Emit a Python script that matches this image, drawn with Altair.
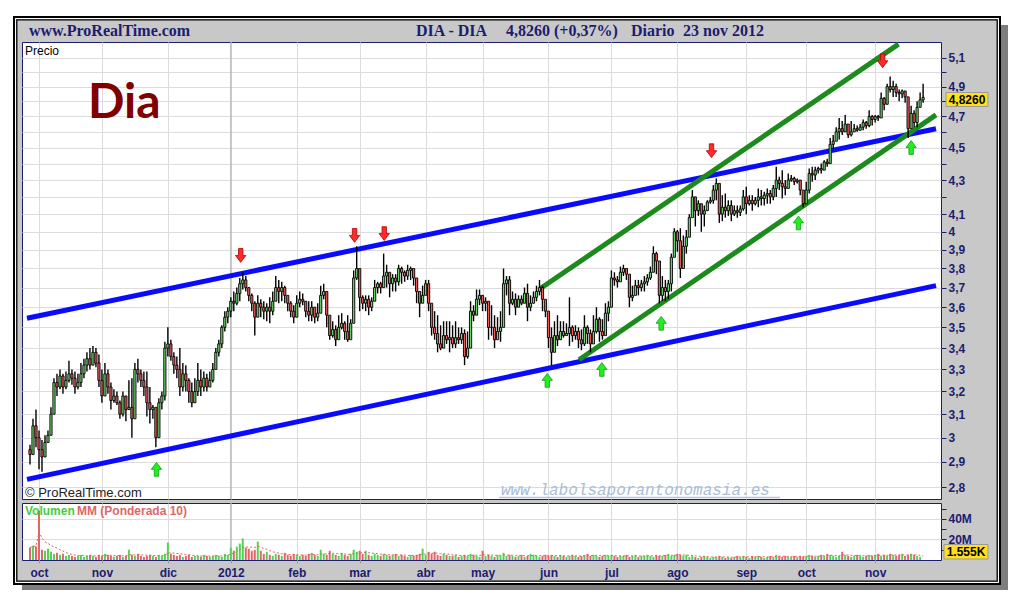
import altair as alt
import numpy as np
import pandas as pd

NAVY = "#1c1c72"
GRID = "#dcdcdc"

# ---------------- axis ticks / labels ----------------
month_idx = [3, 24, 46, 67, 89, 110, 132, 151, 173, 194, 216, 239, 259, 282]
month_lbl = ["oct", "nov", "dic", "2012", "feb", "mar", "abr", "may", "jun", "jul", "ago", "sep", "oct", "nov"]
year_idx = [67]
price_grid = [2.8, 2.9, 3.0, 3.1, 3.2, 3.3, 3.4, 3.5, 3.6, 3.7, 3.8, 3.9, 4.0, 4.1, 4.2, 4.3, 4.4, 4.5, 4.6, 4.7, 4.8, 4.9, 5.0, 5.1]
price_lab = [2.8, 2.9, 3.0, 3.1, 3.2, 3.3, 3.4, 3.5, 3.6, 3.7, 3.8, 3.9, 4.0, 4.1, 4.3, 4.5, 4.7, 4.9, 5.1]
vol_ticks = [10000000, 20000000, 30000000, 40000000, 50000000]

# ---------------- daily prices (trading-day index 0 = 28 sep 2011) ----------------
close = [
    2.93, 3.05, 3.00, 2.95, 2.92, 2.98, 3.01, 3.10, 3.24, 3.22,
    3.27, 3.22, 3.25, 3.28, 3.26, 3.22, 3.24, 3.28, 3.32, 3.35,
    3.32, 3.38, 3.33, 3.25, 3.18, 3.28, 3.22, 3.16, 3.18, 3.15,
    3.10, 3.18, 3.12, 3.13, 3.08, 3.30, 3.28, 3.25, 3.22, 3.15,
    3.12, 3.13, 3.00, 3.15, 3.18, 3.40, 3.42, 3.36, 3.32, 3.30,
    3.22, 3.28, 3.25, 3.20, 3.15, 3.20, 3.25, 3.22, 3.26, 3.22,
    3.25, 3.30, 3.38, 3.42, 3.50, 3.55, 3.58, 3.63, 3.62, 3.67,
    3.72, 3.74, 3.70, 3.66, 3.62, 3.55, 3.62, 3.60, 3.58, 3.60,
    3.58, 3.63, 3.70, 3.68, 3.70, 3.66, 3.62, 3.58, 3.55, 3.62,
    3.64, 3.63, 3.58, 3.56, 3.60, 3.55, 3.57, 3.66, 3.68, 3.56,
    3.46, 3.49, 3.44, 3.50, 3.52, 3.48, 3.44, 3.52, 3.75, 3.80,
    3.65, 3.62, 3.64, 3.60, 3.63, 3.70, 3.72, 3.70, 3.76, 3.78,
    3.72, 3.75, 3.73, 3.80, 3.78, 3.76, 3.79, 3.80, 3.75, 3.68,
    3.62, 3.66, 3.72, 3.62, 3.50, 3.47, 3.42, 3.40, 3.46, 3.44,
    3.45, 3.42, 3.45, 3.44, 3.47, 3.36, 3.40, 3.58, 3.56, 3.64,
    3.66, 3.62, 3.63, 3.50, 3.50, 3.44, 3.48, 3.50, 3.72, 3.74,
    3.62, 3.64, 3.60, 3.64, 3.62, 3.67, 3.60, 3.62, 3.65, 3.68,
    3.70, 3.64, 3.58, 3.45, 3.38, 3.46, 3.44, 3.48, 3.46, 3.47,
    3.50, 3.46, 3.48, 3.44, 3.42, 3.50, 3.47, 3.42, 3.48, 3.54,
    3.48, 3.46, 3.57, 3.60, 3.75, 3.74, 3.73, 3.78, 3.80, 3.77,
    3.65, 3.66, 3.71, 3.70, 3.72, 3.73, 3.75, 3.78, 3.88, 3.84,
    3.66, 3.70, 3.68, 3.72, 3.86, 4.00, 3.95, 3.80, 3.92, 3.97,
    4.08, 4.20, 4.12, 4.16, 4.10, 4.12, 4.17, 4.18, 4.24, 4.28,
    4.10, 4.14, 4.12, 4.15, 4.10, 4.12, 4.11, 4.13, 4.20, 4.16,
    4.18, 4.16, 4.18, 4.20, 4.19, 4.21, 4.22, 4.20, 4.25, 4.30,
    4.28, 4.26, 4.25, 4.30, 4.31, 4.29, 4.30, 4.24, 4.16, 4.24,
    4.34, 4.33, 4.36, 4.37, 4.36, 4.41, 4.40, 4.52, 4.54, 4.60,
    4.62, 4.60, 4.65, 4.58, 4.60, 4.62, 4.61, 4.63, 4.66, 4.64,
    4.70, 4.68, 4.70, 4.69, 4.82, 4.78, 4.90, 4.88, 4.90, 4.86,
    4.85, 4.87, 4.83, 4.62, 4.72, 4.66, 4.76, 4.81, 4.826,
]
high = [
    2.97, 3.08, 3.12, 3.03, 2.99, 3.01, 3.03, 3.13, 3.26, 3.28,
    3.30, 3.28, 3.29, 3.34, 3.30, 3.29, 3.28, 3.33, 3.35, 3.38,
    3.40, 3.41, 3.40, 3.37, 3.30, 3.33, 3.30, 3.24, 3.21, 3.20,
    3.16, 3.20, 3.18, 3.25, 3.26, 3.33, 3.35, 3.30, 3.29, 3.29,
    3.22, 3.14, 3.12, 3.17, 3.20, 3.43, 3.50, 3.44, 3.38, 3.36,
    3.40, 3.33, 3.32, 3.26, 3.24, 3.26, 3.33, 3.30, 3.29, 3.28,
    3.29, 3.33, 3.40, 3.44, 3.51, 3.58, 3.60, 3.65, 3.68, 3.70,
    3.75, 3.78, 3.76, 3.70, 3.67, 3.63, 3.66, 3.64, 3.63, 3.62,
    3.65, 3.68, 3.76, 3.74, 3.73, 3.71, 3.64, 3.63, 3.61, 3.66,
    3.68, 3.67, 3.63, 3.63, 3.63, 3.59, 3.62, 3.71, 3.72, 3.67,
    3.52, 3.53, 3.51, 3.56, 3.57, 3.53, 3.56, 3.54, 3.79, 3.92,
    3.70, 3.66, 3.66, 3.66, 3.65, 3.74, 3.73, 3.73, 3.88, 3.82,
    3.77, 3.77, 3.77, 3.82, 3.81, 3.79, 3.82, 3.81, 3.79, 3.75,
    3.68, 3.71, 3.74, 3.74, 3.61, 3.58, 3.56, 3.51, 3.53, 3.53,
    3.53, 3.51, 3.53, 3.50, 3.50, 3.49, 3.48, 3.63, 3.61, 3.69,
    3.69, 3.66, 3.65, 3.63, 3.61, 3.56, 3.55, 3.58, 3.80, 3.76,
    3.76, 3.68, 3.67, 3.66, 3.66, 3.70, 3.72, 3.66, 3.68, 3.71,
    3.74, 3.71, 3.63, 3.58, 3.50, 3.53, 3.56, 3.53, 3.53, 3.52,
    3.65, 3.51, 3.51, 3.50, 3.49, 3.56, 3.51, 3.49, 3.56, 3.60,
    3.55, 3.54, 3.62, 3.63, 3.79, 3.78, 3.76, 3.81, 3.82, 3.80,
    3.76, 3.71, 3.74, 3.74, 3.74, 3.76, 3.77, 3.81, 3.92, 3.89,
    3.77, 3.76, 3.74, 3.74, 3.88, 4.02, 4.01, 4.02, 3.98, 4.01,
    4.10, 4.24, 4.20, 4.18, 4.16, 4.15, 4.18, 4.20, 4.27, 4.31,
    4.25, 4.21, 4.22, 4.18, 4.18, 4.15, 4.15, 4.15, 4.24, 4.26,
    4.21, 4.21, 4.20, 4.25, 4.24, 4.23, 4.25, 4.24, 4.27, 4.38,
    4.32, 4.36, 4.30, 4.34, 4.33, 4.32, 4.31, 4.29, 4.23, 4.29,
    4.37, 4.38, 4.38, 4.38, 4.40, 4.42, 4.43, 4.56, 4.58, 4.63,
    4.69, 4.67, 4.71, 4.64, 4.67, 4.65, 4.64, 4.65, 4.68, 4.67,
    4.74, 4.71, 4.71, 4.71, 4.86, 4.83, 4.92, 4.97, 4.94, 4.92,
    4.88, 4.88, 4.87, 4.80, 4.77, 4.74, 4.80, 4.86, 4.92,
]
low = [
    2.89, 2.96, 2.96, 2.87, 2.86, 2.92, 2.98, 3.02, 3.12, 3.18,
    3.21, 3.19, 3.21, 3.24, 3.23, 3.19, 3.21, 3.22, 3.26, 3.29,
    3.30, 3.33, 3.31, 3.22, 3.15, 3.24, 3.19, 3.12, 3.15, 3.14,
    3.08, 3.09, 3.07, 3.12, 3.00, 3.18, 3.24, 3.22, 3.18, 3.09,
    3.06, 3.08, 2.96, 3.01, 3.12, 3.16, 3.36, 3.34, 3.28, 3.26,
    3.18, 3.20, 3.20, 3.15, 3.13, 3.15, 3.18, 3.18, 3.20, 3.20,
    3.22, 3.24, 3.32, 3.36, 3.40, 3.48, 3.52, 3.55, 3.58, 3.61,
    3.63, 3.69, 3.68, 3.63, 3.58, 3.46, 3.56, 3.55, 3.54, 3.53,
    3.52, 3.56, 3.64, 3.62, 3.63, 3.62, 3.58, 3.55, 3.52, 3.56,
    3.60, 3.61, 3.55, 3.53, 3.53, 3.52, 3.53, 3.63, 3.64, 3.50,
    3.44, 3.45, 3.41, 3.47, 3.49, 3.44, 3.43, 3.50, 3.62, 3.74,
    3.58, 3.59, 3.58, 3.56, 3.58, 3.65, 3.67, 3.67, 3.72, 3.70,
    3.65, 3.68, 3.68, 3.71, 3.72, 3.73, 3.74, 3.74, 3.71, 3.62,
    3.55, 3.63, 3.67, 3.58, 3.46, 3.44, 3.38, 3.39, 3.45, 3.42,
    3.38, 3.40, 3.40, 3.42, 3.42, 3.32, 3.35, 3.49, 3.53, 3.60,
    3.61, 3.58, 3.58, 3.44, 3.46, 3.40, 3.46, 3.43, 3.62, 3.66,
    3.56, 3.61, 3.56, 3.60, 3.61, 3.63, 3.53, 3.58, 3.62, 3.63,
    3.66, 3.58, 3.55, 3.40, 3.32, 3.42, 3.41, 3.44, 3.45, 3.46,
    3.41, 3.43, 3.44, 3.40, 3.39, 3.41, 3.42, 3.38, 3.44, 3.47,
    3.43, 3.44, 3.51, 3.53, 3.60, 3.71, 3.70, 3.74, 3.76, 3.74,
    3.60, 3.63, 3.67, 3.66, 3.68, 3.68, 3.71, 3.74, 3.79, 3.77,
    3.62, 3.63, 3.63, 3.64, 3.68, 3.89, 3.89, 3.75, 3.81, 3.88,
    3.99, 4.12, 4.03, 4.09, 4.00, 4.03, 4.12, 4.16, 4.16, 4.18,
    4.05, 4.06, 4.08, 4.09, 4.06, 4.09, 4.08, 4.09, 4.12, 4.10,
    4.15, 4.12, 4.15, 4.14, 4.15, 4.15, 4.16, 4.16, 4.18, 4.20,
    4.24, 4.19, 4.21, 4.28, 4.29, 4.27, 4.28, 4.21, 4.14, 4.18,
    4.22, 4.29, 4.30, 4.34, 4.34, 4.38, 4.38, 4.40, 4.49, 4.55,
    4.55, 4.58, 4.60, 4.56, 4.57, 4.60, 4.60, 4.61, 4.61, 4.62,
    4.63, 4.64, 4.66, 4.67, 4.72, 4.74, 4.82, 4.86, 4.83, 4.83,
    4.80, 4.82, 4.79, 4.56, 4.67, 4.63, 4.63, 4.79, 4.79,
]
first_open = 2.95

# volume in millions of shares
volume_m = [
    12, 14, 13, 48, 10, 9, 11, 8, 6,
    7, 5, 6, 4, 5, 4, 3, 4, 5, 3, 4, 5,
    4, 3, 5, 4, 6, 5, 4, 3, 4, 5, 3, 4,
    10, 5, 4, 6, 4, 3, 4, 5, 4, 3, 5, 4, 6,
    17, 6, 5, 4, 5, 3, 4, 5, 3, 4, 4, 3, 5, 4, 3, 4, 5, 4, 3, 6, 5,
    12, 9, 13, 16, 21, 12, 11, 9, 10, 18, 9, 6, 8, 5,
    4, 6, 5, 4, 7, 5, 4, 6, 5, 4, 5, 4, 6, 7, 5, 4, 10, 6, 5, 9,
    6, 5, 4, 7, 5, 4, 6, 10, 8, 9, 6, 9, 5, 4, 6, 5, 4, 6, 5, 4,
    5, 6, 4, 5, 4, 3, 5, 4, 5, 6,
    11, 5, 8, 6, 8, 5, 4, 6, 5, 4, 4, 5, 3, 4, 5, 4, 6, 5, 4, 3,
    9, 4, 5, 4, 3, 5, 4, 7, 4, 5, 4, 3, 4, 5, 3, 4, 6, 5, 4, 3, 4, 5,
    4, 5, 4, 3, 5, 4, 3, 4, 5, 4, 3, 4, 5, 6, 4, 5, 4, 3, 4, 5, 4,
    5, 4, 3, 4, 4, 5, 3, 4, 5, 3, 4, 4, 5, 4, 3, 5, 4, 4, 5, 6, 4, 5,
    6, 5, 4, 5, 3, 4, 3, 2, 3, 4, 3, 2, 3, 3, 4, 3, 2, 3, 2, 3, 4, 3, 4,
    3, 2, 4, 3, 4, 3, 2, 3, 4, 3, 5, 4, 3, 4, 3, 3, 4, 3, 4, 3,
    4, 5, 4, 3, 4, 5, 4, 6, 5, 4, 3, 4, 8, 5, 4, 3, 4, 5, 4, 3, 4, 5, 4,
    5, 6, 4, 5, 4, 6, 5, 4, 5, 6, 4, 5, 6, 5, 4, 3, 0.0016,
]

# trend lines (index, price) end points
blue_top = {"i": [-1, 302.3], "p": [3.545, 4.62]}
blue_bot = {"i": [-1, 302.3], "p": [2.83, 3.71]}
green_top = {"i": [170.3, 289.8], "p": [3.695, 5.20]}
green_bot = {"i": [183.2, 302.3], "p": [3.345, 4.71]}

# signal arrows
down_i = [70.3, 108.3, 118.2, 227.4, 284.5]
down_p = [3.87, 3.98, 3.99, 4.48, 5.08]
up_i = [42.2, 172.6, 190.8, 210.6, 256.4, 294.0]
up_p = [2.87, 3.25, 3.30, 3.52, 4.05, 4.50]

last_price = 4.826
last_price_txt = "4,8260"
last_vol_txt = "1.555K"

# ---------------- data frames ----------------
n = min(len(close), len(high), len(low), len(volume_m))
opens = [first_open] + close[: n - 1]
df = pd.DataFrame({
    "i": list(range(n)),
    "o": opens,
    "c": close[:n],
    "h": high[:n],
    "l": low[:n],
    "v": [x * 1e6 for x in volume_m[:n]],
})
df["bt"] = df[["o", "c"]].max(axis=1)
df["bb"] = df[["o", "c"]].min(axis=1)
vv = df["v"].to_numpy()
ma = []
for k in range(n):
    seg = vv[max(0, k - 9): k + 1]
    w = np.arange(1, len(seg) + 1)
    ma.append(float((seg * w).sum() / w.sum()))
df["ma"] = ma

lines = pd.concat([
    pd.DataFrame({**blue_top, "name": "b1"}),
    pd.DataFrame({**blue_bot, "name": "b2"}),
])
glines = pd.concat([
    pd.DataFrame({**green_top, "name": "g1"}),
    pd.DataFrame({**green_bot, "name": "g2"}),
])
downs = pd.DataFrame({"i": down_i, "p": down_p})
ups = pd.DataFrame({"i": up_i, "p": up_p})
one = pd.DataFrame({"k": [0]})

W = 919
PH = 457
VH = 57

xscale = alt.Scale(domain=[-1, 302.3], nice=False, zero=False)
yscale = alt.Scale(type="log", domain=[2.7535, 5.215], nice=False, zero=False)

xaxis_price = alt.Axis(values=month_idx, labels=False, ticks=False, domain=False,
                       grid=True, gridColor=GRID, title=None)
lab_arr = "[" + ",".join(str(v) for v in price_lab) + "]"
yaxis_price = alt.Axis(
    orient="right", values=price_grid, title=None, domain=False,
    labelExpr=f"indexof({lab_arr}, datum.value) >= 0 ? replace(format(datum.value, '.2~f'), '.', ',') : ''",
    grid=True, gridColor=GRID, tickColor=NAVY, tickSize=5, labelColor=NAVY,
    labelFont="Liberation Sans", labelFontSize=12, labelFontWeight="bold",
    labelPadding=2, labelOverlap=False, labelBaseline="middle",
)


def X(field):
    return alt.X(field, type="quantitative", scale=xscale, axis=xaxis_price)


def Y(field):
    return alt.Y(field, type="quantitative", scale=yscale, axis=yaxis_price)


def txt(text, x, y, **kw):
    return alt.Chart(one).mark_text(text=text, **kw).encode(x=alt.value(x), y=alt.value(y))


# ---------------- header (frame + title) ----------------
shadow = alt.Chart(one).mark_rect(fill="#5e5e5e", opacity=0.8).encode(
    x=alt.value(0), x2=alt.value(986), y=alt.value(1), y2=alt.value(566))
frame = alt.Chart(one).mark_rect(fill="#c8c8c8", stroke="#000000", strokeWidth=2).encode(
    x=alt.value(-8), x2=alt.value(978), y=alt.value(-7), y2=alt.value(560))
frame_w = alt.Chart(one).mark_rect(fillOpacity=0, stroke="#ffffff", strokeWidth=1).encode(
    x=alt.value(-6.5), x2=alt.value(976.5), y=alt.value(-5.5), y2=alt.value(558.5))
frame_i = alt.Chart(one).mark_rect(fillOpacity=0, stroke="#000000", strokeWidth=1.3).encode(
    x=alt.value(-5.2), x2=alt.value(975.2), y=alt.value(-4.2), y2=alt.value(557.2))
hstyle = dict(align="left", baseline="alphabetic", font="Liberation Serif", fontSize=16,
              fontWeight="bold", color=NAVY)
header = alt.layer(
    shadow, frame, frame_w, frame_i,
    txt("www.ProRealTime.com", 7, 12, **hstyle),
    txt("DIA - DIA", 394, 12, **hstyle),
    txt("4,8260 (+0,37%)", 484, 12, **hstyle),
    txt("Diario", 609, 12, **hstyle),
    txt("23 nov 2012", 661, 12, **hstyle),
).properties(width=W, height=14, view=alt.ViewBackground(fill="transparent", stroke="transparent"))

# ---------------- price panel ----------------
year_rule = alt.Chart(pd.DataFrame({"i": year_idx})).mark_rule(color="#a6a6a6", strokeWidth=1).encode(
    x=X("i"))
blue = alt.Chart(lines).mark_line(color="#0a0aff", strokeWidth=5, strokeCap="butt").encode(
    x=X("i"), y=Y("p"), detail="name:N")
green = alt.Chart(glines).mark_line(color="#1c8a1c", strokeWidth=5, strokeCap="butt").encode(
    x=X("i"), y=Y("p"), detail="name:N")
wick = alt.Chart(df).mark_rule(color="#000000", strokeWidth=1.4).encode(
    x=X("i"), y=Y("l"), y2="h")
body = alt.Chart(df).mark_bar(width=2.2, stroke="#000000", strokeWidth=0.9, orient="vertical").encode(
    x=X("i"), y=Y("bb"), y2="bt",
    color=alt.condition("datum.c >= datum.o", alt.value("#6ad86a"), alt.value("#ee5a5a")))
up_path = "M-0.32,1L-0.32,0L-0.75,0L0,-1L0.75,0L0.32,0L0.32,1Z"
down_path = "M-0.32,-1L-0.32,0L-0.75,0L0,1L0.75,0L0.32,0L0.32,-1Z"
arr_dn = alt.Chart(downs).mark_point(shape=down_path, size=190, filled=True, fill="#ff2a2a",
                                     stroke="#b00000", strokeWidth=0.8, opacity=1).encode(x=X("i"), y=Y("p"))
arr_up = alt.Chart(ups).mark_point(shape=up_path, size=190, filled=True, fill="#22ee22",
                                   stroke="#10a010", strokeWidth=0.8, opacity=1).encode(x=X("i"), y=Y("p"))
lp = pd.DataFrame({"p": [last_price]})
lbox = alt.Chart(lp).mark_rect(fill="#ffe01a", stroke="#9a9a9a", strokeWidth=1, yOffset=-5, y2Offset=9).encode(
    x=alt.value(924), x2=alt.value(966), y=Y("p"), y2="p")
ltxt = alt.Chart(lp).mark_text(text=last_price_txt, align="center", baseline="middle", font="Liberation Sans",
                               fontSize=12, fontWeight="bold", color="#000000", dy=2.5).encode(
    x=alt.value(945), y=Y("p"))
price = alt.layer(
    year_rule, blue, green, wick, body, arr_dn, arr_up,
    txt("Precio", 3, 9, align="left", baseline="middle", font="Liberation Sans", fontSize=12, color="#000000"),
    txt("Dia", 66, 76, align="left", baseline="alphabetic", font="Lato", fontSize=48, fontWeight="bold",
        color="#800000"),
    txt("\u00a9 ProRealTime.com", 3, 451, align="left", baseline="middle", font="Liberation Sans",
        fontSize=13, color="#222222"),
    txt("www.labolsaporantonomasia.es", 479, 448, align="left", baseline="middle", font="Liberation Mono",
        fontSize=16, fontStyle="italic", color="#a9bcd5"),
    alt.Chart(one).mark_rule(color="#b4c4da", strokeWidth=1.5).encode(
        x=alt.value(477), x2=alt.value(758), y=alt.value(455.5)),
    lbox, ltxt,
).properties(width=W, height=PH)

# ---------------- volume panel ----------------
vx_axis = alt.Axis(
    values=month_idx, title=None, ticks=True, tickSize=3, tickColor="#9a9a9a", domain=False,
    grid=True, gridColor=GRID,
    labelExpr="[" + ",".join(f"'{m}'" for m in month_lbl) + "][indexof(["
              + ",".join(str(m) for m in month_idx) + "], datum.value)]",
    labelColor=NAVY, labelFont="Liberation Sans", labelFontSize=12, labelFontWeight="bold",
    labelPadding=4, labelOverlap=False,
)
vxscale = xscale
vyscale = alt.Scale(domain=[0, 55500000], nice=False, zero=True)
vy_axis = alt.Axis(
    orient="right", values=vol_ticks, title=None, domain=False,
    labelExpr="datum.value == 20000000 ? '20M' : (datum.value == 40000000 ? '40M' : '')",
    grid=True,
    gridColor=alt.condition("datum.value == 20000000 || datum.value == 40000000",
                            alt.value(GRID), alt.value("transparent")),
    tickColor=NAVY, tickSize=5, labelColor=NAVY, labelFont="Liberation Sans", labelFontSize=12,
    labelFontWeight="bold", labelPadding=2, labelOverlap=False,
)


def VX(field):
    return alt.X(field, type="quantitative", scale=vxscale, axis=vx_axis)


def VY(field):
    return alt.Y(field, type="quantitative", scale=vyscale, axis=vy_axis)


vyear = alt.Chart(pd.DataFrame({"i": year_idx})).mark_rule(color="#a6a6a6", strokeWidth=1).encode(x=VX("i"))
vbars = alt.Chart(df).mark_bar(width=2).encode(
    x=VX("i"), y=VY("v"),
    color=alt.condition("datum.c >= datum.o", alt.value("#52d452"), alt.value("#e26666")))
vma = alt.Chart(df).mark_line(color="#e06060", strokeWidth=1, strokeDash=[2, 2]).encode(
    x=VX("i"), y=VY("ma"))
vbox = alt.Chart(one).mark_rect(fill="#ffe01a", stroke="#9a9a9a", strokeWidth=1).encode(
    x=alt.value(922), x2=alt.value(966), y=alt.value(41.5), y2=alt.value(56))
volume = alt.layer(
    vyear, vbars, vma,
    txt("Volumen", 3, 8, align="left", baseline="middle", font="Liberation Sans", fontSize=12,
        fontWeight="bold", color="#44cc44"),
    txt("MM (Ponderada 10)", 55, 8, align="left", baseline="middle", font="Liberation Sans", fontSize=12,
        fontWeight="bold", color="#e06666"),
    vbox,
    txt(last_vol_txt, 944, 49, align="center", baseline="middle", font="Liberation Sans", fontSize=12,
        fontWeight="bold", color="#000000"),
).properties(width=W, height=VH)

chart = alt.vconcat(header, price, volume, spacing=4, bounds="flush").properties(
    padding={"left": 4, "top": 7, "right": 0, "bottom": 0},
    background="#ffffff",
).configure_view(fill="#ffffff", stroke=NAVY, strokeWidth=1)

chart.save("out.html", embed_options={"renderer": "svg", "actions": False})
